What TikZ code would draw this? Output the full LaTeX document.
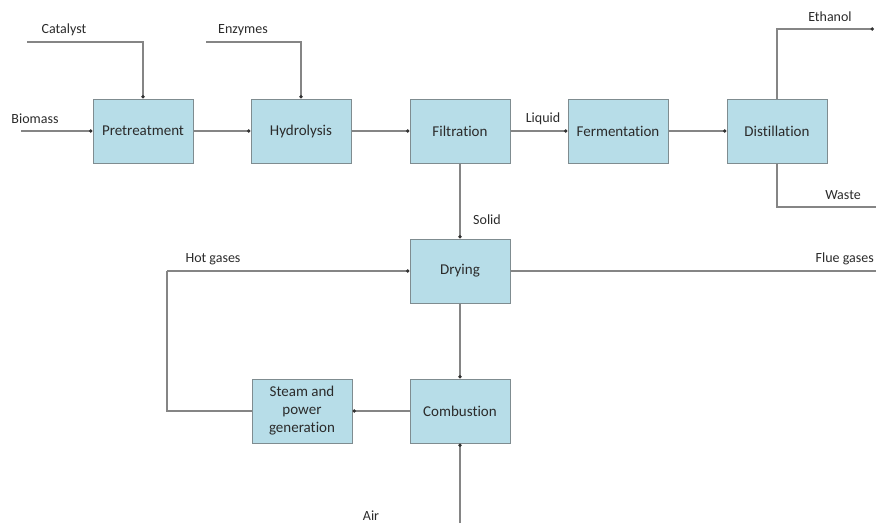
\documentclass[tikz,border=0pt]{standalone}
\usepackage{fontspec}
\setmainfont{Carlito}[Ligatures=NoCommon]
\usetikzlibrary{arrows.meta}
\definecolor{boxfill}{HTML}{B7DDE8}
\definecolor{boxline}{HTML}{7F8C90}
\definecolor{flowline}{HTML}{858585}
\definecolor{txt}{HTML}{2B2B2B}
\begin{document}
\begin{tikzpicture}[x=1pt,y=-1pt,
  unit/.style={draw=boxline, fill=boxfill, line width=1pt, minimum width=100pt, minimum height=64pt,
    inner sep=2pt, align=center, text=txt, font=\fontsize{15}{18}\selectfont},
  lbl/.style={text=txt, font=\fontsize{14}{17}\selectfont, inner sep=0pt},
  flow/.style={draw=flowline, line width=1.1pt, -{Circle[length=3.5pt, color=black!80, fill=black!80]}},
  plain/.style={draw=flowline, line width=1.1pt}]
\useasboundingbox (0,0) rectangle (876,523);

% process units
\node[unit] (pre)  at (143,131) {Pretreatment};
\node[unit] (hyd)  at (301,131) {Hydrolysis};
\node[unit] (fil)  at (460,131) {Filtration};
\node[unit] (fer)  at (618,131) {Fermentation};
\node[unit] (dis)  at (777,131) {Distillation};
\node[unit] (dry)  at (460,271) {Drying};
\node[unit] (comb) at (460,411) {Combustion};
\node[unit] (stm)  at (302,411) {Steam and\\power\\generation};

% free ends of streams
\coordinate (bio)  at (21,131);
\coordinate (cat)  at (27,42);
\coordinate (enz)  at (206,42);
\coordinate (eth)  at (874,29);
\coordinate (wst)  at (876,207);
\coordinate (flue) at (876,271);
\coordinate (air)  at (460,523);
\coordinate (hgc)  at (167,271);

% main line
\draw[flow] (bio) -- (pre.west);
\draw[flow] (cat) -| (pre.north);
\draw[flow] (enz) -| (hyd.north);
\draw[flow] (pre.east) -- (hyd.west);
\draw[flow] (hyd.east) -- (fil.west);
\draw[flow] (fil.east) -- (fer.west);
\draw[flow] (fer.east) -- (dis.west);
\draw[flow] (dis.north) |- (eth);
\draw[plain] (dis.south) |- (wst);

% solids and energy loop
\draw[flow] (fil.south) -- (dry.north);
\draw[flow] (dry.south) -- (comb.north);
\draw[flow] (air) -- (comb.south);
\draw[flow] (comb.west) -- (stm.east);
\draw[plain] (stm.west) -| (hgc);
\draw[flow] (hgc) -- (dry.west);
\draw[plain] (dry.east) -- (flue);

% stream labels
\node[lbl] (lcat) at (64,30)  {Catalyst};
\node[lbl] (lenz) at (243,30) {Enzymes};
\node[lbl] (lbio) at (35,119) {Biomass};
\node[lbl] (lliq) at (543,119) {Liquid};
\node[lbl] (leth) at (830,17) {Ethanol};
\node[lbl] (lwst) at (843,195) {Waste};
\node[lbl] (lsol) at (487,220) {Solid};
\node[lbl] (lhot) at (213,259) {Hot gases};
\node[lbl,anchor=east] (lflue) at (874,259) {Flue gases};
\node[lbl] (lair) at (371,516) {Air};
\end{tikzpicture}
\end{document}
